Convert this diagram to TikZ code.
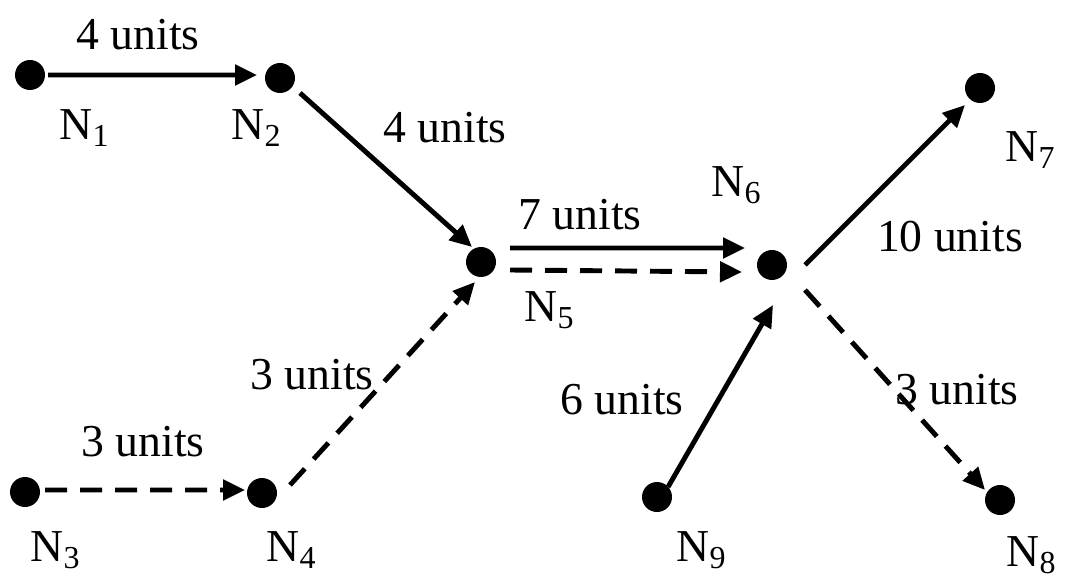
\documentclass[tikz,border=0pt]{standalone}
\usepackage{fontspec}
\setmainfont{Liberation Serif}
\usetikzlibrary{arrows.meta}

\begin{document}
\begin{tikzpicture}[
    vertex/.style={circle,fill=black,inner sep=0pt,minimum size=0.3cm},
    vlabel/.style={font=\fontsize{13}{15}\selectfont},
    wlabel/.style={font=\fontsize{13}{15}\selectfont},
    arrow/.style={-{Triangle[length=2.2mm,width=2mm]},line width=1.4pt},
    darrow/.style={arrow,dash pattern=on 2.2mm off 1.3mm},
]
\useasboundingbox (0,0) rectangle (10.66,5.86);

% nodes
\node[vertex] (n1) at (0.30,5.11) {};
\node[vertex] (n2) at (2.80,5.08) {};
\node[vertex] (n3) at (0.25,0.94) {};
\node[vertex] (n4) at (2.62,0.93) {};
\node[vertex] (n5) at (4.81,3.24) {};
\node[vertex] (n6) at (7.72,3.21) {};
\node[vertex] (n7) at (9.80,4.98) {};
\node[vertex] (n8) at (10.00,0.86) {};
\node[vertex] (n9) at (6.57,0.89) {};

% node names
\node[vlabel] (t1) at (0.85,4.58) {N\textsubscript{1}};
\node[vlabel] (t2) at (2.57,4.58) {N\textsubscript{2}};
\node[vlabel] (t3) at (0.56,0.36) {N\textsubscript{3}};
\node[vlabel] (t4) at (2.92,0.36) {N\textsubscript{4}};
\node[vlabel] (t5) at (5.50,2.76) {N\textsubscript{5}};
\node[vlabel] (t6) at (7.37,4.01) {N\textsubscript{6}};
\node[vlabel] (t7) at (10.31,4.36) {N\textsubscript{7}};
\node[vlabel] (t8) at (10.32,0.31) {N\textsubscript{8}};
\node[vlabel] (t9) at (7.02,0.36) {N\textsubscript{9}};

% connectors (solid: first path, dashed: second path)
\draw[arrow]  ([xshift=1.8mm]n1.center) -- ([xshift=-2.3mm,yshift=0.3mm]n2.center);
\draw[arrow]  ([xshift=2mm,yshift=-1.5mm]n2.center) -- ([xshift=-0.9mm,yshift=1.5mm]n5.center);
\draw[darrow] ([xshift=2mm,yshift=0.2mm]n3.center) -- ([xshift=-1.7mm,yshift=0.3mm]n4.center);
\draw[darrow] ([xshift=2.8mm,yshift=0.8mm]n4.center) -- ([xshift=-0.6mm,yshift=-2mm]n5.center);
\draw[arrow]  ([xshift=2.9mm,yshift=1.4mm]n5.center) -- ([xshift=-2.7mm,yshift=1.7mm]n6.center);
\draw[darrow] ([xshift=2.9mm,yshift=-0.8mm]n5.center) -- ([xshift=-3mm,yshift=-0.7mm]n6.center);
\draw[arrow]  ([xshift=3.3mm]n6.center) -- ([xshift=-1.5mm,yshift=-1.7mm]n7.center);
\draw[darrow] ([xshift=3.3mm,yshift=-2.5mm]n6.center) -- ([xshift=-1.5mm,yshift=1mm]n8.center);
\draw[arrow]  ([xshift=1.1mm,yshift=1mm]n9.center) -- ([xshift=0.1mm,yshift=-4mm]n6.center);

% weights
\node[wlabel] (w12) at (1.38,5.51) {4 units};
\node[wlabel] (w25) at (4.45,4.58) {4 units};
\node[wlabel] (w34) at (1.43,1.44) {3 units};
\node[wlabel] (w45) at (3.12,2.11) {3 units};
\node[wlabel] (w56) at (5.80,3.71) {7 units};
\node[wlabel] (w67) at (9.50,3.49) {10 units};
\node[wlabel] (w68) at (9.57,1.96) {3 units};
\node[wlabel] (w96) at (6.22,1.86) {6 units};
\end{tikzpicture}
\end{document}
